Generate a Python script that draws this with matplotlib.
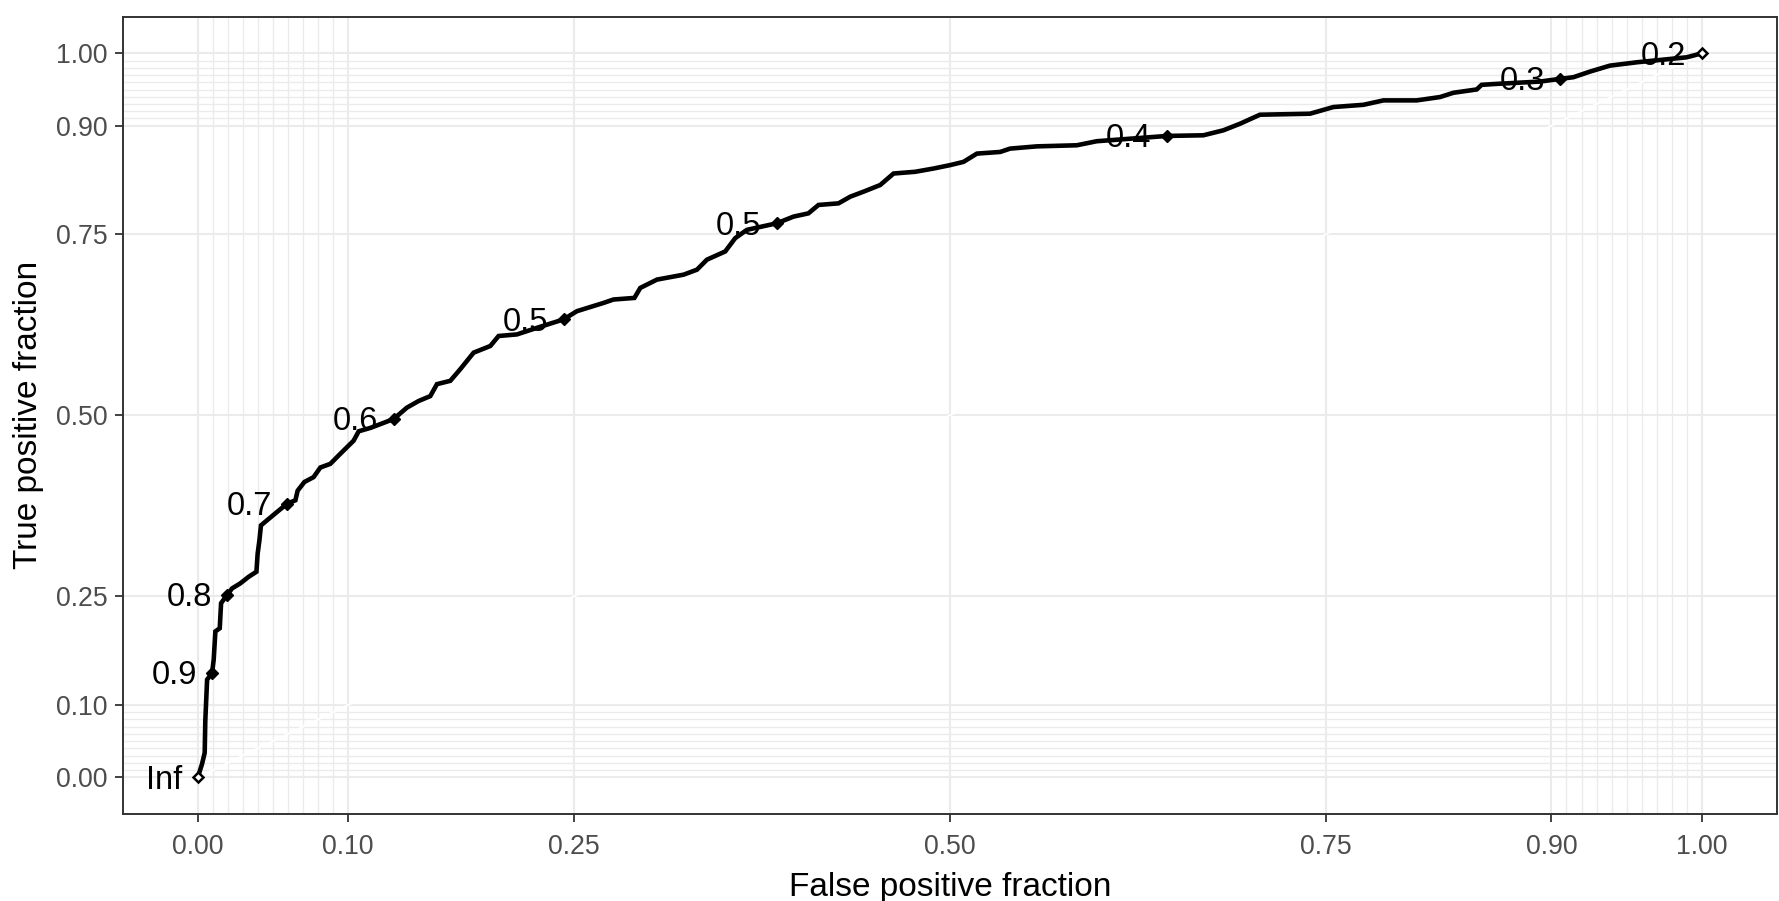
"""
ROC curve (plotROC style) recreated with matplotlib
"""
import matplotlib
matplotlib.use('Agg')
import matplotlib.pyplot as plt

plt.rcParams['font.family'] = ['Liberation Sans', 'DejaVu Sans']

# ROC curve
fpf = [0, 0.0028, 0.0046, 0.005, 0.0062, 0.0095, 0.0106, 0.0117, 0.0146, 0.0155,
       0.0195, 0.0228, 0.0283, 0.0338, 0.039, 0.0398, 0.041, 0.042, 0.046, 0.0527,
       0.0594, 0.0649, 0.0664, 0.0709, 0.077, 0.0815, 0.0881, 0.0948, 0.1036, 0.107,
       0.1148, 0.1302, 0.139, 0.1468, 0.1546, 0.159, 0.1679, 0.1745, 0.1834, 0.1945,
       0.2, 0.2122, 0.2255, 0.2432, 0.2521, 0.2698, 0.2764, 0.2903, 0.2942, 0.3053,
       0.323, 0.3319, 0.3385, 0.3507, 0.3573, 0.3651, 0.385, 0.3961, 0.406, 0.4127,
       0.426, 0.4338, 0.4426, 0.4537, 0.4626, 0.477, 0.4892, 0.5002, 0.5091, 0.518,
       0.5335, 0.5401, 0.5578, 0.5844, 0.5977, 0.6443, 0.6686, 0.6819, 0.693, 0.7062,
       0.7395, 0.755, 0.775, 0.7883, 0.8104, 0.8259, 0.8348, 0.8503, 0.8536, 0.8636,
       0.8924, 0.9057, 0.9146, 0.9257, 0.9389, 0.9567, 0.9899, 1.0]
tpf = [0, 0.0183, 0.034, 0.078, 0.135, 0.144, 0.163, 0.2016, 0.206, 0.2406,
       0.252, 0.261, 0.268, 0.277, 0.284, 0.309, 0.3277, 0.348, 0.355, 0.3666,
       0.378, 0.3827, 0.396, 0.408, 0.4147, 0.428, 0.433, 0.447, 0.465, 0.478,
       0.4827, 0.4949, 0.5106, 0.5198, 0.5266, 0.5431, 0.5477, 0.5637, 0.5866, 0.5958,
       0.6096, 0.6118, 0.6209, 0.6325, 0.6439, 0.6553, 0.66, 0.6622, 0.676, 0.6875,
       0.6943, 0.7012, 0.715, 0.7264, 0.7447, 0.7562, 0.7653, 0.7745, 0.779, 0.7906,
       0.7928, 0.802, 0.8089, 0.8181, 0.834, 0.8364, 0.8409, 0.8456, 0.8501, 0.8615,
       0.8638, 0.8684, 0.8715, 0.873, 0.8786, 0.8859, 0.8868, 0.8937, 0.9028, 0.9152,
       0.9166, 0.9258, 0.9289, 0.935, 0.935, 0.9396, 0.9455, 0.9501, 0.9565, 0.9578,
       0.961, 0.9647, 0.967, 0.9748, 0.983, 0.9876, 0.9945, 1.0]

# cutoff markers
cut_fpf = [0, 0.0095, 0.0195, 0.0594, 0.1302, 0.2432, 0.385, 0.6443, 0.9057, 1.0]
cut_tpf = [0, 0.144, 0.252, 0.378, 0.4949, 0.6325, 0.7653, 0.8859, 0.9647, 1.0]
cut_labels = ['Inf', '0.9', '0.8', '0.7', '0.6', '0.5', '0.5', '0.4', '0.3', '0.2']

breaks = [0, 0.1, 0.25, 0.5, 0.75, 0.9, 1]
break_labels = ['0.00', '0.10', '0.25', '0.50', '0.75', '0.90', '1.00']
minor = [i / 100 for i in range(1, 10)] + [i / 100 for i in range(91, 100)]

fig = plt.figure(figsize=(17.79, 9.01), dpi=100)
ax = fig.add_axes([0.0689, 0.097, 0.9300, 0.884])

grid_col = '#EBEBEB'
for v in minor:
    ax.axvline(v, color=grid_col, lw=1.0, zorder=0)
    ax.axhline(v, color=grid_col, lw=1.0, zorder=0)
for v in breaks:
    ax.axvline(v, color=grid_col, lw=1.5, zorder=0)
    ax.axhline(v, color=grid_col, lw=1.5, zorder=0)

# reference diagonal
ax.plot([-0.05, 1.05], [-0.05, 1.05], color='white', lw=1.4, zorder=1)

ax.plot(fpf, tpf, color='black', lw=3.3, solid_joinstyle='miter', zorder=3)

inner = slice(1, -1)
ax.plot(cut_fpf[inner], cut_tpf[inner], 'D', color='black', ms=6.5, zorder=4)
ax.plot([cut_fpf[0], cut_fpf[-1]], [cut_tpf[0], cut_tpf[-1]], 'D',
        mfc='white', mec='black', mew=1.8, ms=5.5, zorder=4)

for x, y, lab in zip(cut_fpf, cut_tpf, cut_labels):
    ax.annotate(lab, (x, y), xytext=(-11, -2), textcoords='offset points',
                ha='right', va='center', fontsize=23.5, color='black', zorder=5)

ax.set_xlim(-0.05, 1.05)
ax.set_ylim(-0.05, 1.05)
ax.set_xticks(breaks)
ax.set_xticklabels(break_labels)
ax.set_yticks(breaks)
ax.set_yticklabels(break_labels)
ax.tick_params(axis='both', length=6, width=1.3, color='#333333',
               labelcolor='#4D4D4D', labelsize=19.2)
ax.tick_params(axis='x', pad=9)
ax.tick_params(axis='y', pad=5)

for s in ax.spines.values():
    s.set_color('#333333')
    s.set_linewidth(1.4)

ax.set_xlabel('False positive fraction', fontsize=24, labelpad=8)
ax.set_ylabel('True positive fraction', fontsize=24, labelpad=8)

fig.savefig('out.png', dpi=100)
